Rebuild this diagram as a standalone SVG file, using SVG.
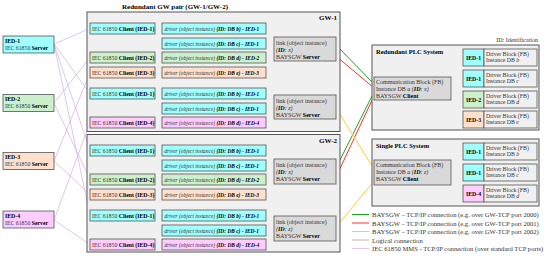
<svg xmlns="http://www.w3.org/2000/svg" width="550" height="256" viewBox="0 0 550 256">
<style>
text{font-family:"Liberation Serif","Times New Roman",serif;fill:#333}
.b{font-weight:bold;fill:#000}
.i{font-style:italic}
.t{font-size:7px}
.s{font-size:5.8px}
.d{font-size:5.4px;font-style:italic}
.l{font-size:6px}
.p{font-size:6.5px}
.g{font-size:6.6px}
.box{stroke:#555;stroke-width:0.8}
.gw{fill:#f0f0f0;stroke:#555;stroke-width:1}
.link{fill:#d9d9d9;stroke:#555;stroke-width:0.8}
.cy{fill:#a0ffff}
.gr{fill:#ccf0cc}
.pe{fill:#ffe0cc}
.pk{fill:#ffccff}
.gy{fill:#f0f0f0}
.lg{stroke:#888;stroke-width:0.6;fill:none}
.mms{stroke:#c9a0dc;stroke-width:0.6;fill:none}
.c1{stroke:#22a022;stroke-width:1;fill:none}
.c2{stroke:#ff3030;stroke-width:1;fill:none}
.c3{stroke:#ffcc33;stroke-width:1;fill:none}
</style>

<text class="t b" x="175" y="9" text-anchor="middle">Redundant GW pair (GW-1/GW-2)</text>
<text class="l" x="538" y="42" text-anchor="end">ID: Identification</text>

<!-- connectors -->
<g id="connectors">
  <path class="mms" d="M54,44 L90,28.5 M54,44 L90,93.5 M54,44 L90,150.5 M54,44 L90,215.5"/>
  <path class="mms" d="M54,103 L90,57.5 M54,103 L90,179.5"/>
  <path class="mms" d="M54,161 L90,72.5 M54,161 L90,194.5"/>
  <path class="mms" d="M54,220 L90,122.5 M54,220 L90,244.5"/>
  <path class="lg" d="M155,28.5 L162,28.5 M155,28.5 L162,43.5 M155,57.5 L162,57.5 M155,72.5 L162,72.5 M155,93.5 L162,93.5 M155,93.5 L162,108.5 M155,122.5 L162,122.5"/>
  <path class="lg" d="M266,28.5 L274,44 M266,43.5 L274,47 M266,57.5 L274,51 M266,72.5 L274,55 M266,93.5 L274,103 M266,108.5 L274,107 M266,122.5 L274,111"/>
  <path class="lg" d="M155,150.5 L162,150.5 M155,150.5 L162,165.5 M155,179.5 L162,179.5 M155,194.5 L162,194.5 M155,215.5 L162,215.5 M155,215.5 L162,230.5 M155,244.5 L162,244.5"/>
  <path class="lg" d="M266,150.5 L274,166 M266,165.5 L274,169 M266,179.5 L274,173 M266,194.5 L274,177 M266,215.5 L274,225 M266,230.5 L274,229 M266,244.5 L274,233"/>
  <path class="lg" d="M451,88.5 L463,57.5 M451,88.5 L463,78.5 M451,88.5 L463,99.5 M451,88.5 L463,119.5"/>
  <path class="lg" d="M451,172.5 L463,151.5 M451,172.5 L463,172.5 M451,172.5 L463,193.5"/>
  <path class="c1" d="M336,45 L374,84"/>
  <path class="c2" d="M336,56 L374,88"/>
  <path class="c1" d="M336,168 L374,92"/>
  <path class="c2" d="M336,177 L374,96"/>
  <path class="c3" d="M336,108 L374,169"/>
  <path class="c3" d="M336,227 L374,181"/>
</g>

<g id="ied1"><rect class="box cy" x="3" y="36" width="51" height="17"/><text class="s b" x="5" y="42.5">IED-1</text><text class="s" x="5" y="49.5">IEC 61850 <tspan class="b">Server</tspan></text></g>
<g id="ied2"><rect class="box gr" x="3" y="94.5" width="51" height="17"/><text class="s b" x="5" y="101">IED-2</text><text class="s" x="5" y="108">IEC 61850 <tspan class="b">Server</tspan></text></g>
<g id="ied3"><rect class="box pe" x="3" y="152.5" width="51" height="17"/><text class="s b" x="5" y="159">IED-3</text><text class="s" x="5" y="166">IEC 61850 <tspan class="b">Server</tspan></text></g>
<g id="ied4"><rect class="box pk" x="3" y="211" width="51" height="17"/><text class="s b" x="5" y="217.5">IED-4</text><text class="s" x="5" y="224.5">IEC 61850 <tspan class="b">Server</tspan></text></g>

<g id="gw1">
  <rect class="gw" x="87" y="12" width="253" height="119.5"/>
  <text class="t b" x="337" y="20" text-anchor="end">GW-1</text>
  <g id="gw1-clients">
    <rect class="box cy" x="90" y="23" width="65" height="11"/><text class="s" x="92" y="30.5">IEC 61850 <tspan class="b">Client (IED-1)</tspan></text>
    <rect class="box gr" x="90" y="52" width="65" height="11"/><text class="s" x="92" y="59.5">IEC 61850 <tspan class="b">Client (IED-2)</tspan></text>
    <rect class="box pe" x="90" y="67" width="65" height="11"/><text class="s" x="92" y="74.5">IEC 61850 <tspan class="b">Client (IED-3)</tspan></text>
    <rect class="box cy" x="90" y="88" width="65" height="11"/><text class="s" x="92" y="95.5">IEC 61850 <tspan class="b">Client (IED-1)</tspan></text>
    <rect class="box pk" x="90" y="117" width="65" height="11"/><text class="s" x="92" y="124.5">IEC 61850 <tspan class="b">Client (IED-4)</tspan></text>
  </g>
  <g id="gw1-drivers">
    <rect class="box cy" x="162" y="23" width="104" height="11"/><text class="d" x="164.5" y="30.5">driver (object instance) <tspan class="b">(ID: DB b) - IED-1</tspan></text>
    <rect class="box cy" x="162" y="38" width="104" height="11"/><text class="d" x="164.5" y="45.5">driver (object instance) <tspan class="b">(ID: DB c) - IED-1</tspan></text>
    <rect class="box gr" x="162" y="52" width="104" height="11"/><text class="d" x="164.5" y="59.5">driver (object instance) <tspan class="b">(ID: DB d) - IED-2</tspan></text>
    <rect class="box pe" x="162" y="67" width="104" height="11"/><text class="d" x="164.5" y="74.5">driver (object instance) <tspan class="b">(ID: DB e) - IED-3</tspan></text>
    <rect class="box cy" x="162" y="88" width="104" height="11"/><text class="d" x="164.5" y="95.5">driver (object instance) <tspan class="b">(ID: DB b) - IED-1</tspan></text>
    <rect class="box cy" x="162" y="103" width="104" height="11"/><text class="d" x="164.5" y="110.5">driver (object instance) <tspan class="b">(ID: DB c) - IED-1</tspan></text>
    <rect class="box pk" x="162" y="117" width="104" height="11"/><text class="d" x="164.5" y="124.5">driver (object instance) <tspan class="b">(ID: DB d) - IED-4</tspan></text>
  </g>
  <g id="gw1-link-x"><rect class="link" x="274" y="37" width="62" height="24"/><text class="l" x="276" y="44.5">link (object instance)</text><text class="l i" x="276" y="51.5">(<tspan class="b">ID</tspan>: x)</text><text class="l" x="276" y="58.5">BAYSGW <tspan class="b">Server</tspan></text></g>
  <g id="gw1-link-z"><rect class="link" x="274" y="95" width="62" height="24"/><text class="l" x="276" y="102.5">link (object instance)</text><text class="l i" x="276" y="109.5">(<tspan class="b">ID</tspan>: z)</text><text class="l" x="276" y="116.5">BAYSGW <tspan class="b">Server</tspan></text></g>
</g>

<g id="gw2">
  <rect class="gw" x="87" y="134.5" width="253" height="117.5"/>
  <text class="t b" x="337" y="143" text-anchor="end">GW-2</text>
  <g id="gw2-clients">
    <rect class="box cy" x="90" y="145" width="65" height="11"/><text class="s" x="92" y="152.5">IEC 61850 <tspan class="b">Client (IED-1)</tspan></text>
    <rect class="box gr" x="90" y="174" width="65" height="11"/><text class="s" x="92" y="181.5">IEC 61850 <tspan class="b">Client (IED-2)</tspan></text>
    <rect class="box pe" x="90" y="189" width="65" height="11"/><text class="s" x="92" y="196.5">IEC 61850 <tspan class="b">Client (IED-3)</tspan></text>
    <rect class="box cy" x="90" y="210" width="65" height="11"/><text class="s" x="92" y="217.5">IEC 61850 <tspan class="b">Client (IED-1)</tspan></text>
    <rect class="box pk" x="90" y="239" width="65" height="11"/><text class="s" x="92" y="246.5">IEC 61850 <tspan class="b">Client (IED-4)</tspan></text>
  </g>
  <g id="gw2-drivers">
    <rect class="box cy" x="162" y="145" width="104" height="11"/><text class="d" x="164.5" y="152.5">driver (object instance) <tspan class="b">(ID: DB b) - IED-1</tspan></text>
    <rect class="box cy" x="162" y="160" width="104" height="11"/><text class="d" x="164.5" y="167.5">driver (object instance) <tspan class="b">(ID: DB c) - IED-1</tspan></text>
    <rect class="box gr" x="162" y="174" width="104" height="11"/><text class="d" x="164.5" y="181.5">driver (object instance) <tspan class="b">(ID: DB d) - IED-2</tspan></text>
    <rect class="box pe" x="162" y="189" width="104" height="11"/><text class="d" x="164.5" y="196.5">driver (object instance) <tspan class="b">(ID: DB e) - IED-3</tspan></text>
    <rect class="box cy" x="162" y="210" width="104" height="11"/><text class="d" x="164.5" y="217.5">driver (object instance) <tspan class="b">(ID: DB b) - IED-1</tspan></text>
    <rect class="box cy" x="162" y="225" width="104" height="11"/><text class="d" x="164.5" y="232.5">driver (object instance) <tspan class="b">(ID: DB c) - IED-1</tspan></text>
    <rect class="box pk" x="162" y="239" width="104" height="11"/><text class="d" x="164.5" y="246.5">driver (object instance) <tspan class="b">(ID: DB d) - IED-4</tspan></text>
  </g>
  <g id="gw2-link-x"><rect class="link" x="274" y="159" width="62" height="25"/><text class="l" x="276" y="166.5">link (object instance)</text><text class="l i" x="276" y="173.5">(<tspan class="b">ID</tspan>: x)</text><text class="l" x="276" y="180.5">BAYSGW <tspan class="b">Server</tspan></text></g>
  <g id="gw2-link-z"><rect class="link" x="274" y="216" width="62" height="25"/><text class="l" x="276" y="223.5">link (object instance)</text><text class="l i" x="276" y="230.5">(<tspan class="b">ID</tspan>: z)</text><text class="l" x="276" y="237.5">BAYSGW <tspan class="b">Server</tspan></text></g>
</g>

<g id="plc-redundant">
  <rect class="gw" x="372" y="45" width="167" height="85"/>
  <text class="p b" x="376" y="54">Redundant PLC System</text>
  <g id="comm-x"><rect class="link" x="374" y="77" width="77" height="23"/><text class="l" x="376" y="84">Communication Block (FB)</text><text class="l" x="376" y="90.5">Instance DB <tspan class="i">a</tspan> <tspan class="i">(<tspan class="b">ID</tspan>: x)</tspan></text><text class="l" x="376" y="97.5">BAYSGW <tspan class="b">Client</tspan></text></g>
  <g id="r-db-b"><rect class="box cy" x="463" y="49" width="21" height="17"/><rect class="box gy" x="484" y="49" width="53" height="17"/><text class="s b" x="473.5" y="59.5" text-anchor="middle">IED-1</text><text class="s" x="486" y="55.5">Driver Block (FB)</text><text class="s" x="486" y="62">Instance DB <tspan class="i">b</tspan></text></g>
  <g id="r-db-c"><rect class="box cy" x="463" y="70" width="21" height="17"/><rect class="box gy" x="484" y="70" width="53" height="17"/><text class="s b" x="473.5" y="80.5" text-anchor="middle">IED-1</text><text class="s" x="486" y="76.5">Driver Block (FB)</text><text class="s" x="486" y="83">Instance DB <tspan class="i">c</tspan></text></g>
  <g id="r-db-d"><rect class="box gr" x="463" y="91" width="21" height="17"/><rect class="box gy" x="484" y="91" width="53" height="17"/><text class="s b" x="473.5" y="101.5" text-anchor="middle">IED-2</text><text class="s" x="486" y="97.5">Driver Block (FB)</text><text class="s" x="486" y="104">Instance DB <tspan class="i">d</tspan></text></g>
  <g id="r-db-e"><rect class="box pe" x="463" y="111" width="21" height="17"/><rect class="box gy" x="484" y="111" width="53" height="17"/><text class="s b" x="473.5" y="121.5" text-anchor="middle">IED-3</text><text class="s" x="486" y="117.5">Driver Block (FB)</text><text class="s" x="486" y="124">Instance DB <tspan class="i">e</tspan></text></g>
</g>

<g id="plc-single">
  <rect class="gw" x="372" y="139" width="167" height="67"/>
  <text class="p b" x="376" y="148">Single PLC System</text>
  <g id="comm-z"><rect class="link" x="374" y="160" width="77" height="25"/><text class="l" x="376" y="167">Communication Block (FB)</text><text class="l" x="376" y="174">Instance DB <tspan class="i">a</tspan> <tspan class="i">(<tspan class="b">ID</tspan>: z)</tspan></text><text class="l" x="376" y="181">BAYSGW <tspan class="b">Client</tspan></text></g>
  <g id="s-db-b"><rect class="box cy" x="463" y="143" width="21" height="17"/><rect class="box gy" x="484" y="143" width="53" height="17"/><text class="s b" x="473.5" y="153.5" text-anchor="middle">IED-1</text><text class="s" x="486" y="149.5">Driver Block (FB)</text><text class="s" x="486" y="156">Instance DB <tspan class="i">b</tspan></text></g>
  <g id="s-db-c"><rect class="box cy" x="463" y="164" width="21" height="17"/><rect class="box gy" x="484" y="164" width="53" height="17"/><text class="s b" x="473.5" y="174.5" text-anchor="middle">IED-1</text><text class="s" x="486" y="170.5">Driver Block (FB)</text><text class="s" x="486" y="177">Instance DB <tspan class="i">c</tspan></text></g>
  <g id="s-db-d"><rect class="box pk" x="463" y="185" width="21" height="17"/><rect class="box gy" x="484" y="185" width="53" height="17"/><text class="s b" x="473.5" y="195.5" text-anchor="middle">IED-4</text><text class="s" x="486" y="191.5">Driver Block (FB)</text><text class="s" x="486" y="198">Instance DB <tspan class="i">d</tspan></text></g>
</g>

<g id="legend">
  <line class="c1" x1="352" y1="214.5" x2="369" y2="214.5"/><text class="g" x="372" y="217">BAYSGW – TCP/IP connection (e.g. over GW-TCP port 2000)</text>
  <line class="c2" x1="352" y1="223" x2="369" y2="223"/><text class="g" x="372" y="225.5">BAYSGW – TCP/IP connection (e.g. over GW-TCP port 2001)</text>
  <line class="c3" x1="352" y1="231.5" x2="369" y2="231.5"/><text class="g" x="372" y="234">BAYSGW – TCP/IP connection (e.g. over GW-TCP port 2002)</text>
  <line class="lg" x1="352" y1="240" x2="369" y2="240"/><text class="g" x="372" y="242.5">Logical connection</text>
  <line class="mms" x1="352" y1="248.5" x2="369" y2="248.5"/><text class="g" x="372" y="251">IEC 61850 MMS - TCP/IP connection (over standard TCP ports)</text>
</g>
</svg>
